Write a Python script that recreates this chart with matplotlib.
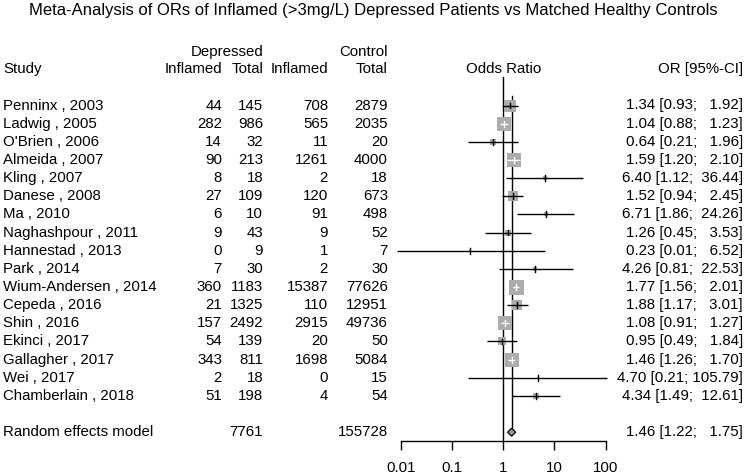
import numpy as np
import matplotlib
matplotlib.use('Agg')
import matplotlib.pyplot as plt
from matplotlib.patches import Polygon
from matplotlib.transforms import blended_transform_factory
from matplotlib.ticker import FixedLocator, FixedFormatter, NullLocator

plt.rcParams['font.family'] = ['Liberation Sans', 'DejaVu Sans']
plt.rcParams['font.size'] = 10.8

# data
studies = ["Penninx , 2003", "Ladwig , 2005", "O'Brien , 2006", "Almeida , 2007",
           "Kling , 2007", "Danese , 2008", "Ma , 2010", "Naghashpour , 2011",
           "Hannestad , 2013", "Park , 2014", "Wium-Andersen , 2014", "Cepeda , 2016",
           "Shin , 2016", "Ekinci , 2017", "Gallagher , 2017", "Wei , 2017",
           "Chamberlain , 2018"]
dep_inflamed = [44, 282, 14, 90, 8, 27, 6, 9, 0, 7, 360, 21, 157, 54, 343, 2, 51]
dep_total = [145, 986, 32, 213, 18, 109, 10, 43, 9, 30, 1183, 1325, 2492, 139, 811, 18, 198]
ctl_inflamed = [708, 565, 11, 1261, 2, 120, 91, 9, 1, 2, 15387, 110, 2915, 20, 1698, 0, 4]
ctl_total = [2879, 2035, 20, 4000, 18, 673, 498, 52, 7, 30, 77626, 12951, 49736, 50, 5084, 15, 54]
odds = [1.34, 1.04, 0.64, 1.59, 6.40, 1.52, 6.71, 1.26, 0.23, 4.26, 1.77, 1.88, 1.08, 0.95, 1.46, 4.70, 4.34]
ci_low = [0.93, 0.88, 0.21, 1.20, 1.12, 0.94, 1.86, 0.45, 0.0084, 0.81, 1.56, 1.17, 0.91, 0.49, 1.26, 0.21, 1.49]
ci_high = [1.92, 1.23, 1.96, 2.10, 36.44, 2.45, 24.26, 3.53, 6.52, 22.53, 2.01, 3.01, 1.27, 1.84, 1.70, 105.79, 12.61]
weights = [8.8, 12.9, 2.0, 10.4, 0.9, 6.7, 1.5, 2.3, 0.3, 1.0, 13.6, 6.8, 12.9, 4.5, 13.2, 0.3, 2.1]

pooled_or = 1.46
pooled_low = 1.22
pooled_high = 1.75
pooled_dep_total = 7761
pooled_ctl_total = 155728

axis_ticks = [0.01, 0.1, 1, 10, 100]
axis_labels = ["0.01", "0.1", "1", "10", "100"]

W, H = 746, 476
fig = plt.figure(figsize=(W / 100, H / 100), dpi=100)

# forest panel: 0.01 -> 100 spans px 400.7 .. 605.7, full height, rows in data units
row0_px, row_px = 105.5, 18.15
ax = fig.add_axes([400.7 / W, 0, 205.0 / W, 1])
ax.set_xscale('log')
ax.set_xlim(0.01, 100)
ax.set_ylim((H - row0_px) / row_px, -row0_px / row_px)
ax.patch.set_visible(False)

def px_row(py):
    return (py - row0_px) / row_px

tr = blended_transform_factory(fig.transFigure, ax.transData)
def col(px):
    return px / W

grey = '#acacac'
decade_px = 205.0 / 4
max_side = 15.0   # px, biggest square
axis_row = px_row(441)

# reference line at 1 and pooled estimate line
ax.plot([1, 1], [px_row(77), axis_row], color='black', lw=1.0, zorder=1)
ax.plot([pooled_or, pooled_or], [px_row(96), 18 - 0.22], color='black', lw=1.0, zorder=1)

for i in range(len(studies)):
    est, lo, hi = odds[i], ci_low[i], ci_high[i]
    side = max_side * np.sqrt(weights[i] / max(weights))
    half = side / 2 / decade_px
    inside = np.log10(lo) >= np.log10(est) - half and np.log10(hi) <= np.log10(est) + half
    c = 'white' if inside else 'black'
    ax.scatter([est], [i], marker='s', s=(side * 0.72) ** 2, color=grey, lw=0, zorder=2)
    ax.plot([lo, hi], [i, i], color=c, lw=1.0, zorder=3, clip_on=False, solid_capstyle='butt')
    ax.plot([est, est], [i - 0.16, i + 0.16], color=c, lw=1.0, zorder=3)

    ax.text(col(3), i, studies[i], transform=tr, ha='left', va='center')
    ax.text(col(222), i, str(dep_inflamed[i]), transform=tr, ha='right', va='center')
    ax.text(col(263), i, str(dep_total[i]), transform=tr, ha='right', va='center')
    ax.text(col(328), i, str(ctl_inflamed[i]), transform=tr, ha='right', va='center')
    ax.text(col(388), i, str(ctl_total[i]), transform=tr, ha='right', va='center')
    ax.text(col(743), i, f"{est:.2f} [{lo:.2f}; {hi:>6.2f}]", transform=tr, ha='right', va='center')

# random effects model row
r = 18
dh = 0.22
diamond = Polygon([(pooled_low, r), (pooled_or, r - dh), (pooled_high, r), (pooled_or, r + dh)],
                  closed=True, facecolor='#999999', edgecolor='black', lw=0.9, zorder=3)
ax.add_patch(diamond)
ax.text(col(3), r, "Random effects model", transform=tr, ha='left', va='center')
ax.text(col(263), r, str(pooled_dep_total), transform=tr, ha='right', va='center')
ax.text(col(388), r, str(pooled_ctl_total), transform=tr, ha='right', va='center')
ax.text(col(743), r, f"{pooled_or:.2f} [{pooled_low:.2f}; {pooled_high:>6.2f}]",
        transform=tr, ha='right', va='center')

# headers
h1, h2 = px_row(52), px_row(69)
ax.text(col(263), h1, "Depressed", transform=tr, ha='right', va='center')
ax.text(col(388), h1, "Control", transform=tr, ha='right', va='center')
ax.text(col(3), h2, "Study", transform=tr, ha='left', va='center')
ax.text(col(222), h2, "Inflamed", transform=tr, ha='right', va='center')
ax.text(col(263), h2, "Total", transform=tr, ha='right', va='center')
ax.text(col(328), h2, "Inflamed", transform=tr, ha='right', va='center')
ax.text(col(388), h2, "Total", transform=tr, ha='right', va='center')
ax.text(1, h2, "Odds Ratio", ha='center', va='center')
ax.text(col(743), h2, "OR [95%-CI]", transform=tr, ha='right', va='center')

fig.text(0.5, 1 - 11 / H,
         "Meta-Analysis of ORs of Inflamed (>3mg/L) Depressed Patients vs Matched Healthy Controls",
         ha='center', va='center', fontsize=12)

# x axis
for s in ['top', 'left', 'right']:
    ax.spines[s].set_visible(False)
ax.spines['bottom'].set_position(('data', axis_row))
ax.spines['bottom'].set_bounds(0.01, 100)
ax.spines['bottom'].set_linewidth(1.0)
ax.xaxis.set_major_locator(FixedLocator(axis_ticks))
ax.xaxis.set_major_formatter(FixedFormatter(axis_labels))
ax.xaxis.set_minor_locator(NullLocator())
ax.tick_params(axis='x', direction='out', length=6.5, width=1.0, pad=8, labelsize=10.8)
ax.set_yticks([])

fig.savefig('out.png', dpi=100)
